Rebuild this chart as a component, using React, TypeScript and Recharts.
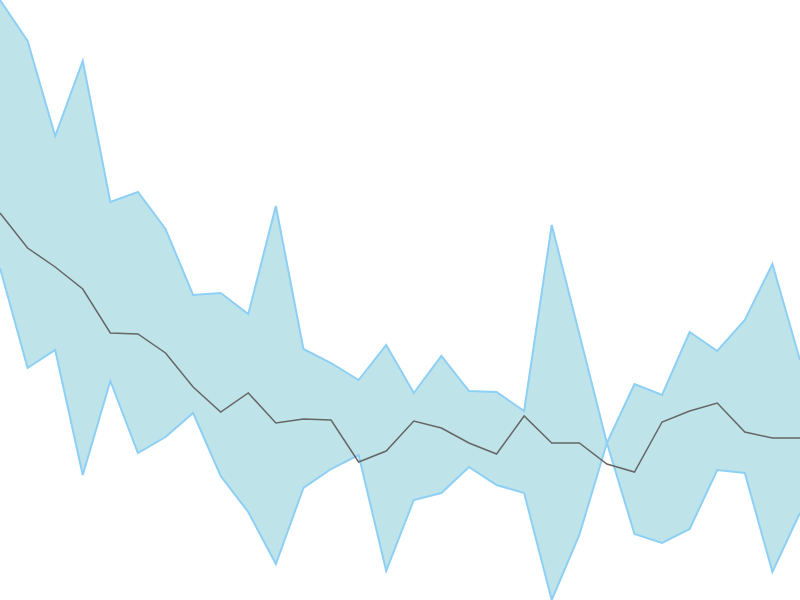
import { ComposedChart, Area, Line, XAxis, YAxis } from "recharts";

// one tick per sample, 30 samples
const steps = Array.from({ length: 30 }, (_, i) => i);

const upper = [
  600, 559, 464, 539, 398, 408, 371, 305, 307, 286,
  394, 251, 237, 220, 255, 207, 244, 209, 208, 189,
  375, 266, 157, 216, 205, 268, 249, 280, 336, 240,
];

const lower = [
  332, 232, 250, 125, 219, 147, 163, 187, 124, 88,
  36, 112, 131, 145, 29, 100, 107, 133, 115, 107,
  0, 65, 157, 66, 57, 71, 130, 127, 28, 87,
];

const middle = [
  387, 352, 333, 311, 267, 266, 247, 213, 188, 207,
  177, 181, 180, 138, 149, 179, 172, 157, 146, 184,
  157, 157, 136, 128, 178, 189, 197, 168, 162, 162,
];

const data = steps.map((i) => ({
  i,
  range: [lower[i], upper[i]],
  mid: middle[i],
}));

export default function App() {
  return (
    <div style={{ position: "fixed", top: 0, left: 0, width: 800, height: 600, background: "#fff" }}>
      <ComposedChart
        width={800}
        height={600}
        data={data}
        margin={{ top: 0, right: 0, left: 0, bottom: 0 }}
        accessibilityLayer={false}
      >
        <XAxis dataKey="i" type="number" domain={[0, 29]} hide />
        <YAxis domain={[0, 600]} hide />
        <Area
          type="linear"
          dataKey="range"
          stroke="#8ecff5"
          strokeWidth={2}
          fill="#bee4e9"
          fillOpacity={1}
          dot={false}
          activeDot={false}
          isAnimationActive={false}
        />
        <Line
          type="linear"
          dataKey="mid"
          stroke="#666666"
          strokeWidth={1.5}
          dot={false}
          activeDot={false}
          isAnimationActive={false}
        />
      </ComposedChart>
    </div>
  );
}
